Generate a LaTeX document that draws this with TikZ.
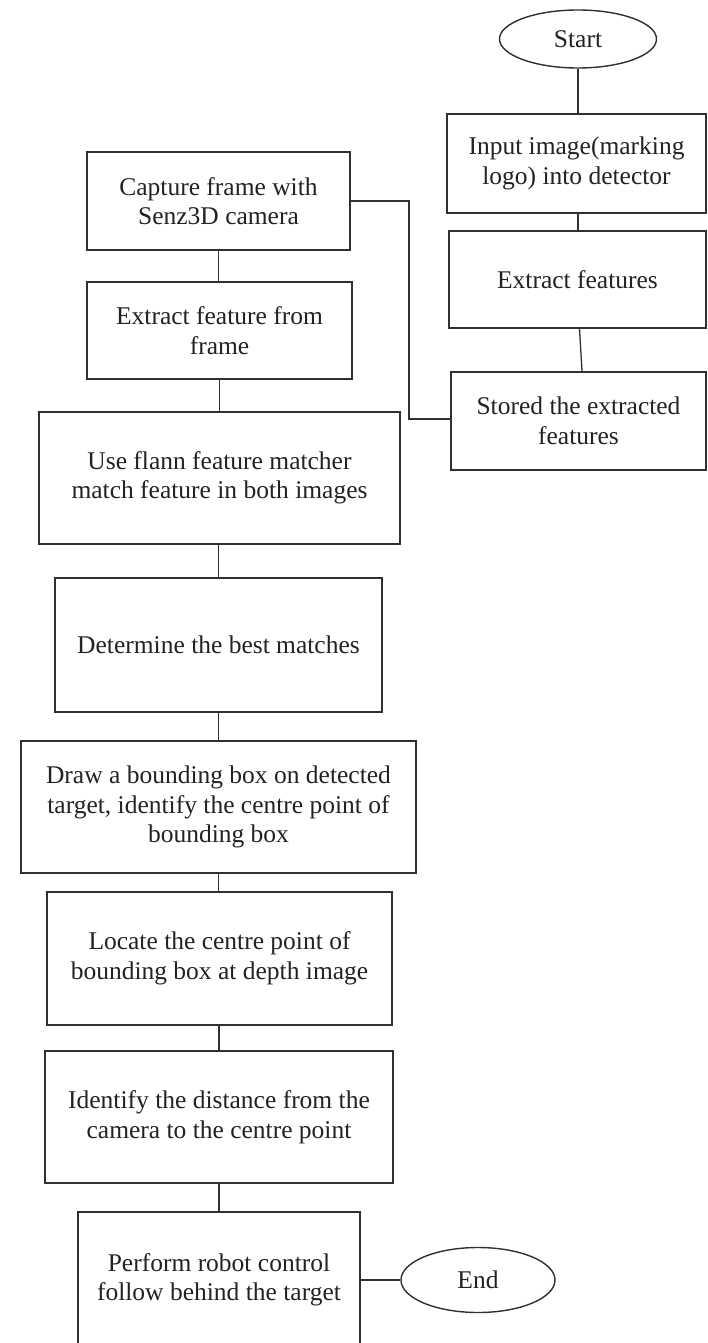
\documentclass[tikz,border=0pt]{standalone}
\usepackage{fontspec}
\setmainfont{Liberation Serif}
\usetikzlibrary{shapes.geometric}
\definecolor{ink}{HTML}{222222}
\definecolor{wire}{HTML}{303030}
\tikzset{
  txt/.style={text=ink, font=\fontsize{25.5}{29.5}\selectfont, align=center, inner sep=0pt},
  box/.style={txt, draw=wire, line width=1.4pt, rectangle},
  term/.style={txt, draw=wire, line width=1.4pt, ellipse},
  link/.style={draw=wire, line width=1.3pt},
}
\begin{document}
\begin{tikzpicture}[x=1pt,y=-1pt]
\clip (0,0) rectangle (707,1343);
\fill[white] (0,0) rectangle (707,1343);

% right column: building the reference feature set
\node[term, minimum width=157pt, minimum height=58pt] (start) at (578,39) {Start};
\node[box, minimum width=259pt, minimum height=99pt] (input) at (576.5,163.5) {Input image(marking\\logo) into detector};
\node[box, minimum width=257pt, minimum height=97pt] (extr) at (577.5,279.5) {Extract features};
\node[box, minimum width=255pt, minimum height=98pt] (store) at (578.5,421) {Stored the extracted\\features};

% left column: processing each camera frame
\node[box, minimum width=263pt, minimum height=98pt] (capture) at (218.5,201) {Capture frame with\\Senz3D camera};
\node[box, minimum width=265pt, minimum height=97pt] (frame) at (219.5,330.5) {Extract feature from\\frame};
\node[box, minimum width=361pt, minimum height=132pt] (flann) at (219.5,478) {Use flann feature matcher\\match feature in both images};
\node[box, minimum width=327pt, minimum height=134pt] (best) at (218.5,645) {Determine the best matches};
\node[box, minimum width=395pt, minimum height=132pt] (bbox) at (218.5,807) {Draw a bounding box on detected\\target, identify the centre point of\\bounding box};
\node[box, minimum width=345pt, minimum height=133pt] (depth) at (219.5,958.5) {Locate the centre point of\\bounding box at depth image};
\node[box, minimum width=348pt, minimum height=132pt] (dist) at (219,1117) {Identify the distance from the\\camera to the centre point};
\node[box, minimum width=282pt, minimum height=136pt] (robot) at (219,1280) {Perform robot control\\follow behind the target};
\node[term, minimum width=154pt, minimum height=65pt] (end) at (478,1280) {End};

% connectors
\draw[link] (start.south) -- (input.north -| start.south);
\draw[link] (input.south -| start.south) -- (extr.north -| start.south);
\draw[link] ([xshift=2pt]extr.south) -- ([xshift=3.5pt]store.north);
\coordinate (bend1) at (409,201);
\coordinate (bend2) at (409,419);
\draw[link] (capture.east) -- (bend1) -- (bend2) -- (bend2 -| store.west);
\draw[link] (capture.south) -- (frame.north -| capture.south);
\draw[link] (frame.south) -- (flann.north -| frame.south);
\draw[link] (flann.south -| best.north) -- (best.north);
\draw[link] (best.south) -- (bbox.north -| best.south);
\draw[link] (bbox.south) -- (depth.north -| bbox.south);
\draw[link] (depth.south -| dist.north) -- (dist.north);
\draw[link] (dist.south) -- (robot.north -| dist.south);
\draw[link] (robot.east) -- (end.west);
\end{tikzpicture}
\end{document}
